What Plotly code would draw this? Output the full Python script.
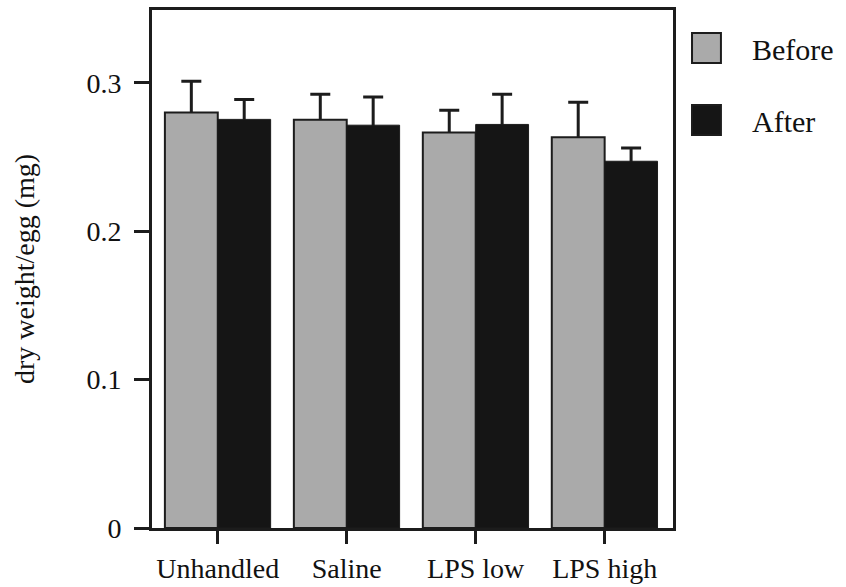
import plotly.graph_objects as go

categories = ["Unhandled", "Saline", "LPS low", "LPS high"]
before_vals = [0.280, 0.275, 0.2665, 0.2633]
before_err = [0.021, 0.0173, 0.015, 0.0235]
after_vals = [0.2753, 0.2714, 0.2719, 0.2471]
after_err = [0.0134, 0.019, 0.0204, 0.009]
y_ticks = [0, 0.1, 0.2, 0.3]
y_tick_labels = ["0", "0.1", "0.2", "0.3"]
series_names = ["Before", "After"]

FONT = "Liberation Serif"
INK = "#1c1c1c"
BEFORE_COLOR = "#aaaaaa"
AFTER_COLOR = "#151515"
CLEAR = "rgba(0,0,0,0)"

fig = go.Figure()
# error bars first (symmetric), so the bars drawn afterwards hide the lower half
for vals, errs, grp in [(before_vals, before_err, "b"), (after_vals, after_err, "a")]:
    fig.add_trace(go.Bar(
        x=categories, y=vals, offsetgroup=grp,
        marker=dict(color=CLEAR, line=dict(width=0)),
        error_y=dict(type="data", array=errs, symmetric=True,
                     color=INK, thickness=3, width=10),
        showlegend=False, hoverinfo="skip",
    ))
fig.add_trace(go.Bar(
    x=categories, y=before_vals, name=series_names[0], offsetgroup="b",
    marker=dict(color=BEFORE_COLOR, line=dict(color=INK, width=2)),
    showlegend=False,
))
fig.add_trace(go.Bar(
    x=categories, y=after_vals, name=series_names[1], offsetgroup="a",
    marker=dict(color=AFTER_COLOR, line=dict(color=INK, width=1)),
    showlegend=False,
))

# manual legend with large swatches, as in the original
legend_items = [(series_names[0], BEFORE_COLOR, 0.9267, 0.9228),
                (series_names[1], AFTER_COLOR, 0.7877, 0.7838)]
for name, col, yc, yt in legend_items:
    fig.add_shape(type="rect", xref="paper", yref="paper",
                  x0=1.0365, x1=1.092, y0=yc - 0.029, y1=yc + 0.029,
                  fillcolor=col, line=dict(color=INK, width=2))
    fig.add_annotation(xref="paper", yref="paper", x=1.147, y=yt, text=name,
                       showarrow=False, xanchor="left", yanchor="middle",
                       font=dict(family=FONT, size=30, color="#111"))

fig.update_layout(
    width=846, height=587,
    margin=dict(l=152, r=173, t=10, b=59, autoexpand=False),
    paper_bgcolor="white", plot_bgcolor="white",
    barmode="group", bargap=0.18, bargroupgap=0,
    font=dict(family=FONT, size=28, color="#111"),
    xaxis=dict(range=[-0.51, 3.53], showline=True, linecolor=INK, linewidth=3,
               mirror=True, ticks="outside", ticklen=13, tickwidth=3, tickcolor=INK,
               showgrid=False, zeroline=False, automargin=False,
               tickfont=dict(family=FONT, size=28)),
    yaxis=dict(range=[0, 0.349], showline=True, linecolor=INK, linewidth=3,
               mirror=True, ticks="outside", ticklen=15, tickwidth=3, tickcolor=INK,
               tickvals=y_ticks, ticktext=y_tick_labels, showgrid=False, zeroline=False,
               ticklabelstandoff=7,
               automargin=False, tickfont=dict(family=FONT, size=28),
               title=dict(text="dry weight/egg (mg)", font=dict(family=FONT, size=28),
                          standoff=44)),
)

fig.write_html("out.html")
